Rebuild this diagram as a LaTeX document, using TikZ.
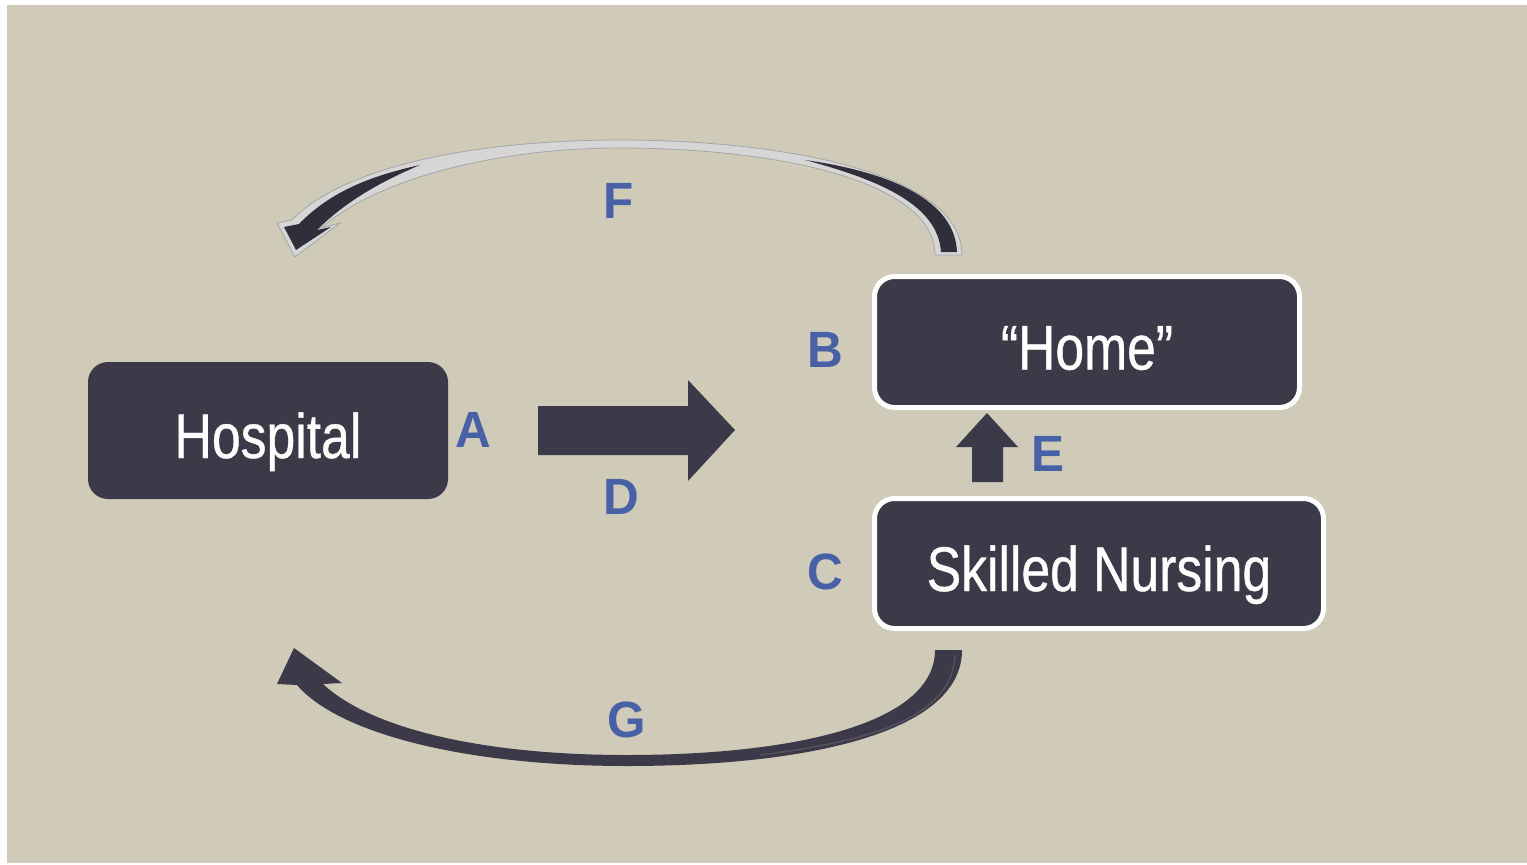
\documentclass[tikz,border=0pt]{standalone}
\usepackage{fontspec}
\setmainfont{Liberation Sans}[FakeStretch=0.82,FakeBold=0.6]
\newfontfamily\lblfont{Liberation Sans}[FakeStretch=0.97]
\usetikzlibrary{calc}
\definecolor{bg}{RGB}{207,203,184}
\definecolor{boxfill}{RGB}{60,58,72}
\definecolor{lblue}{RGB}{72,97,166}
\definecolor{fgray}{RGB}{214,214,214}
\definecolor{fedge}{RGB}{165,165,165}
\definecolor{darkarr}{RGB}{48,46,58}
\tikzset{
  box/.style={draw=none, fill=boxfill, rounded corners=20pt, text=white,
    font=\fontsize{63}{70}\selectfont, text height=55pt, text depth=0pt, inner sep=0pt},
  wbox/.style={box, draw=white, line width=5pt},
  lbl/.style={text=lblue, font=\lblfont\fontsize{51}{56}\selectfont\bfseries, inner sep=0pt},
  blockarrow/.style={fill=boxfill, draw=none},
}
\begin{document}
\begin{tikzpicture}[x=1pt,y=-1pt]
\useasboundingbox (0,0) rectangle (1527,865);
\fill[white] (0,0) rectangle (1527,865);
\fill[bg] (7,5) rectangle (1527,863);

% boxes
\node[box, minimum width=360pt, minimum height=137pt] (hosp) at (268,430.5) {Hospital};
\node[wbox, minimum width=425pt, minimum height=131pt] (home) at (1087,342) {“Home”};
\node[wbox, minimum width=449pt, minimum height=130pt] (snf) at (1099,563.5) {Skilled Nursing};

% labels
\node[lbl] (A) at (473,430) {A};
\node[lbl] (B) at (825,350) {B};
\node[lbl] (C) at (825,572) {C};
\node[lbl] (D) at (621,497) {D};
\node[lbl] (E) at (1048,454) {E};
\node[lbl] (F) at (619,201) {F};
\node[lbl] (G) at (627,720) {G};

% block arrow D
\fill[blockarrow] (538,406) -- (688,406) -- (688,380) -- (735,430) -- (688,481) -- (688,455) -- (538,455) -- cycle;
% block arrow E
\fill[blockarrow] (972,482) -- (972,447) -- (956,447) -- (987,413) -- (1018,447) -- (1003,447) -- (1003,482) -- cycle;

% curved arrow G
\fill[boxfill] (962,650) .. controls (962,735) and (800,766) .. (627,766)
  .. controls (470,766) and (340,735) .. (297,685)
  -- (277,684) -- (294,648) -- (342,683) -- (323,684)
  .. controls (370,728) and (480,755) .. (627,755)
  .. controls (790,755) and (935,725) .. (935,650) -- cycle;
\draw[color=boxfill!88!white, line width=1.5pt] (955,655) .. controls (952,715) and (880,740) .. (760,755);

% curved arrow F
\filldraw[fill=fgray, draw=fedge, line width=0.8pt]
  (962,255) .. controls (962,172) and (780,140) .. (620,140)
  .. controls (480,140) and (345,165) .. (292,220)
  -- (277,223) -- (295,257) -- (340,223) -- (321,228)
  .. controls (380,177) and (500,148) .. (620,148)
  .. controls (780,148) and (935,182) .. (935,255) -- cycle;
\fill[darkarr] (941,252) .. controls (938,205) and (880,180) .. (805,160)
  .. controls (890,172) and (955,200) .. (957,252) -- cycle;
\fill[darkarr] (296,250) -- (284,227) -- (299,224)
  .. controls (330,192) and (370,176) .. (420,165)
  .. controls (380,182) and (345,202) .. (317,230) -- (331,227) -- cycle;
\end{tikzpicture}
\end{document}
